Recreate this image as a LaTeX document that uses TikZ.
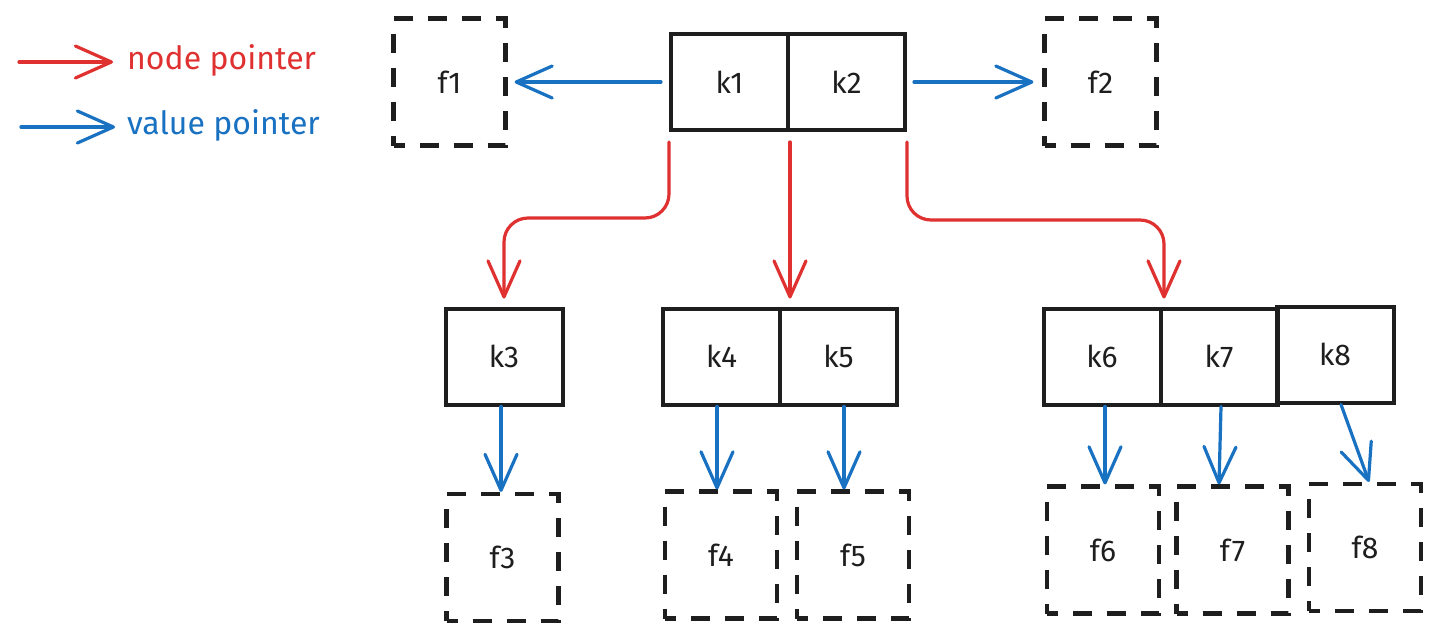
\documentclass[tikz,border=0pt]{standalone}
\usepackage{fontspec}
\setmainfont{Fira Sans}
\usetikzlibrary{arrows.meta}
\definecolor{myred}{HTML}{E03131}
\definecolor{myblue}{HTML}{1971C2}
\definecolor{ink}{HTML}{1E1E1E}
\begin{document}
\begin{tikzpicture}[x=1pt,y=-1pt,
  kbox/.style={draw=ink,line width=4pt,minimum width=117pt,minimum height=96pt,inner sep=0pt,
    font=\fontsize{30}{34}\selectfont,text=ink},
  fbox/.style={draw=ink,line width=4.2pt,dash pattern=on 19pt off 15pt,dash phase=8pt,
    minimum width=112pt,minimum height=127pt,inner sep=0pt,
    font=\fontsize{30}{34}\selectfont,text=ink},
  tipv/.style={-{Straight Barb[length=36pt,width=32pt,round]}},
  nodeptr/.style={myred,line width=3.2pt,line cap=round,tipv},
  valptr/.style={myblue,line width=3.2pt,line cap=round,tipv},
  legtext/.style={anchor=west,inner sep=0pt,font=\fontsize{32}{36}\selectfont},
]
\useasboundingbox (0,0) rectangle (1440,641);
\fill[white] (0,0) rectangle (1440,641);

% legend
\node[legtext,text=myred] (lr) at (127,60) {node pointer};
\node[legtext,text=myblue] (lb) at (127,125) {value pointer};
\coordinate (r0) at (19,62);
\coordinate (b0) at (21,127);
\draw[nodeptr] (r0) -- ([xshift=-14pt,yshift=-2pt]lr.west);
\draw[valptr] (b0) -- ([xshift=-12pt,yshift=-2pt]lb.west);

% top node
\node[kbox] (k1) at (729.5,82) {k1};
\node[kbox] (k2) at (846.5,82) {k2};
\node[fbox] (f1) at (449.5,82) {f1};
\node[fbox] (f2) at (1100.5,82) {f2};

% second level
\node[kbox] (k3) at (504,356.5) {k3};
\node[kbox] (k4) at (721.5,356.5) {k4};
\node[kbox] (k5) at (838.5,356.5) {k5};
\node[kbox] (k6) at (1102,356.5) {k6};
\node[kbox] (k7) at (1219,356.5) {k7};
\node[kbox] (k8) at (1335,354.5) {k8};

% values
\node[fbox] (f3) at (502.5,557.5) {f3};
\node[fbox] (f4) at (721,555) {f4};
\node[fbox] (f5) at (853,555) {f5};
\node[fbox] (f6) at (1103,550) {f6};
\node[fbox] (f7) at (1232.5,550) {f7};
\node[fbox] (f8) at (1365,547.5) {f8};

% value pointers
\draw[valptr] ([xshift=-8pt]k1.west) -- ([xshift=7pt]f1.east);
\draw[valptr] ([xshift=7pt]k2.east) -- ([xshift=-9pt]f2.west);
\draw[valptr] ([xshift=-3pt]k3.south) -- ([xshift=-1.5pt]f3.north);
\draw[valptr] ([xshift=-4.5pt]k4.south) -- ([xshift=-4pt]f4.north);
\draw[valptr] ([xshift=5.5pt]k5.south) -- ([xshift=-9pt]f5.north);
\draw[valptr] ([xshift=3pt]k6.south) -- ([xshift=2pt]f6.north);
\draw[valptr] ([xshift=2pt]k7.south) -- ([xshift=-13.5pt]f7.north);
\draw[valptr] ([xshift=6pt]k8.south) -- ([xshift=4pt]f8.north);

% node pointers
\draw[nodeptr,rounded corners=24pt] ([yshift=-10pt]k1.south west) -- ++(0,76) -| ([yshift=8pt]k3.north);
\draw[nodeptr] ([yshift=-10pt]k1.south east) -- ([yshift=8pt]k1.south east |- k4.north);
\draw[nodeptr,rounded corners=24pt] ([yshift=-10pt]k2.south east) -- ++(0,78) -| ([xshift=1.5pt,yshift=8pt]k6.north east);
\end{tikzpicture}
\end{document}
